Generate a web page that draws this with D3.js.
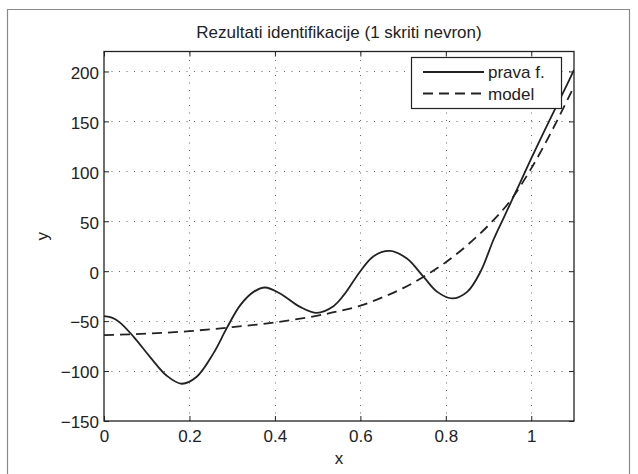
<!DOCTYPE html>
<html>
<head>
<meta charset="utf-8">
<script src="https://cdn.jsdelivr.net/npm/d3@7"></script>
<style>
  html, body { margin: 0; padding: 0; background: #fff; }
  svg { display: block; }
  text { font-family: "Liberation Sans", Arial, Helvetica, sans-serif; fill: #222; }
</style>
</head>
<body>
<svg id="chart" width="638" height="474"></svg>
<script>
// ---- data ----
const titleText = "Rezultati identifikacije (1 skriti nevron)";
const xLabelText = "x";
const yLabelText = "y";
const seriesNames = ["prava f.", "model"];

const xDomain = [0, 1.1];
const yDomain = [-150, 220];
const xTickValues = [0, 0.2, 0.4, 0.6, 0.8, 1];
const xTickLabels = ["0", "0.2", "0.4", "0.6", "0.8", "1"];
const yTickValues = [-150, -100, -50, 0, 50, 100, 150, 200];
const yTickLabels = ["\u2212150", "\u2212100", "\u221250", "0", "50", "100", "150", "200"];

// true function ("prava f.")
const trueX = [0, 0.02, 0.0375, 0.069, 0.108, 0.147, 0.182, 0.217, 0.256, 0.287, 0.319, 0.35, 0.377,
               0.412, 0.459, 0.498, 0.537, 0.561, 0.6, 0.631, 0.669, 0.709, 0.748, 0.78, 0.815,
               0.85, 0.881, 0.912, 0.936, 0.955, 0.971, 1.0, 1.029, 1.061, 1.084, 1.1];
const trueY = [-45, -46.8, -51.5, -65.5, -86, -104.7, -112.7, -105.7, -82.3, -57.3, -34, -20.7, -16.3,
               -22.3, -35.7, -41.7, -35, -24, 0, 15, 20.3, 12.7, -5.7, -20.7, -27.3,
               -20.7, -0.7, 32, 54, 71.5, 86, 113, 139, 167, 187, 201.5];

// model ("model")
const modelX = [0, 0.1, 0.2, 0.3, 0.4, 0.5, 0.55, 0.6, 0.65, 0.7, 0.75, 0.8, 0.85, 0.9, 0.95, 1.0, 1.05, 1.1];
const modelY = [-64, -62.5, -60, -56, -51.3, -44.5, -40, -34.5, -26.5, -17, -5, 9, 26, 46, 70, 103, 142, 185];

// ---- layout ----
const svg = d3.select("#chart");
const plot = { left: 104, right: 574, top: 51.5, bottom: 421 };
const ink = "#222";

const x = d3.scaleLinear().domain(xDomain).range([plot.left, plot.right]);
const y = d3.scaleLinear().domain(yDomain).range([plot.bottom, plot.top]);

// figure frame
svg.append("path")
  .attr("d", "M7.5,474 L7.5,9.5 L629.5,9.5 L629.5,474")
  .attr("fill", "none").attr("stroke", "#8a8a8a").attr("stroke-width", 1.2);

// plot background
svg.append("rect")
  .attr("x", plot.left).attr("y", plot.top)
  .attr("width", plot.right - plot.left).attr("height", plot.bottom - plot.top)
  .attr("fill", "#fff");

// grid
const grid = svg.append("g").attr("stroke", "#666").attr("stroke-width", 1).attr("stroke-dasharray", "1,6.5");
grid.selectAll("line.gx").data(xTickValues.filter(v => v > xDomain[0] && v < xDomain[1]))
  .join("line").attr("class", "gx")
  .attr("x1", d => Math.round(x(d)) + 0.5).attr("x2", d => Math.round(x(d)) + 0.5)
  .attr("y1", plot.bottom).attr("y2", plot.top);
grid.selectAll("line.gy").data(yTickValues.filter(v => v > yDomain[0] && v < yDomain[1]))
  .join("line").attr("class", "gy")
  .attr("y1", d => Math.round(y(d)) + 0.5).attr("y2", d => Math.round(y(d)) + 0.5)
  .attr("x1", plot.left).attr("x2", plot.right);

// curves
svg.append("clipPath").attr("id", "clip").append("rect")
  .attr("x", plot.left).attr("y", plot.top)
  .attr("width", plot.right - plot.left).attr("height", plot.bottom - plot.top);

const line = d3.line().x(d => x(d[0])).y(d => y(d[1])).curve(d3.curveCatmullRom.alpha(0.5));
const trueData = trueX.map((v, i) => [v, trueY[i]]);
const modelData = modelX.map((v, i) => [v, modelY[i]]);

const curves = svg.append("g").attr("clip-path", "url(#clip)");
curves.append("path").datum(trueData).attr("d", line)
  .attr("fill", "none").attr("stroke", ink).attr("stroke-width", 1.8);
curves.append("path").datum(modelData).attr("d", line)
  .attr("fill", "none").attr("stroke", ink).attr("stroke-width", 1.8).attr("stroke-dasharray", "10,6");

// axes
const fs = 17;
const xAxis = d3.axisBottom(x).tickValues(xTickValues)
  .tickFormat((d, i) => xTickLabels[i]).tickSizeInner(-5).tickSizeOuter(0).tickPadding(9);
const yAxis = d3.axisLeft(y).tickValues(yTickValues)
  .tickFormat((d, i) => yTickLabels[i]).tickSizeInner(-5).tickSizeOuter(0).tickPadding(5);
const xAxisTop = d3.axisTop(x).tickValues(xTickValues).tickFormat("").tickSizeInner(-5).tickSizeOuter(0);
const yAxisRight = d3.axisRight(y).tickValues(yTickValues).tickFormat("").tickSizeInner(-5).tickSizeOuter(0);

function styleAxis(g) {
  g.select(".domain").remove();
  g.selectAll("line").attr("stroke", ink).attr("stroke-width", 1);
  g.selectAll("text").attr("font-size", fs).attr("fill", ink)
    .attr("font-family", "'Liberation Sans', Arial, sans-serif");
}
svg.append("g").attr("transform", `translate(0,${plot.bottom})`).call(xAxis).call(styleAxis);
svg.append("g").attr("transform", `translate(${plot.left},0)`).call(yAxis).call(styleAxis)
  .selectAll("text").attr("dy", "0.4em");
svg.append("g").attr("transform", `translate(0,${plot.top})`).call(xAxisTop).call(styleAxis);
svg.append("g").attr("transform", `translate(${plot.right},0)`).call(yAxisRight).call(styleAxis);

// axes box
svg.append("rect")
  .attr("x", plot.left).attr("y", plot.top)
  .attr("width", plot.right - plot.left).attr("height", plot.bottom - plot.top)
  .attr("fill", "none").attr("stroke", ink).attr("stroke-width", 1.3);

// title and labels
svg.append("text").attr("x", (plot.left + plot.right) / 2).attr("y", 38)
  .attr("text-anchor", "middle").attr("font-size", fs).text(titleText);
svg.append("text").attr("x", (plot.left + plot.right) / 2).attr("y", 464)
  .attr("text-anchor", "middle").attr("font-size", fs).text(xLabelText);
svg.append("text").attr("transform", `translate(48,${(plot.top + plot.bottom) / 2}) rotate(-90)`)
  .attr("text-anchor", "middle").attr("font-size", fs).text(yLabelText);

// legend
const lg = svg.append("g");
lg.append("rect").attr("x", 411.5).attr("y", 57.5).attr("width", 150).attr("height", 51)
  .attr("fill", "#fff").attr("stroke", ink).attr("stroke-width", 1.2);
const legendRows = [
  { name: seriesNames[0], dash: null, y: 72 },
  { name: seriesNames[1], dash: "10,6", y: 93.5 }
];
legendRows.forEach(r => {
  lg.append("line").attr("x1", 423).attr("x2", 484).attr("y1", r.y).attr("y2", r.y)
    .attr("stroke", ink).attr("stroke-width", 1.8).attr("stroke-dasharray", r.dash);
  lg.append("text").attr("x", 488).attr("y", r.y + 6).attr("font-size", fs).text(r.name);
});
</script>
</body>
</html>
